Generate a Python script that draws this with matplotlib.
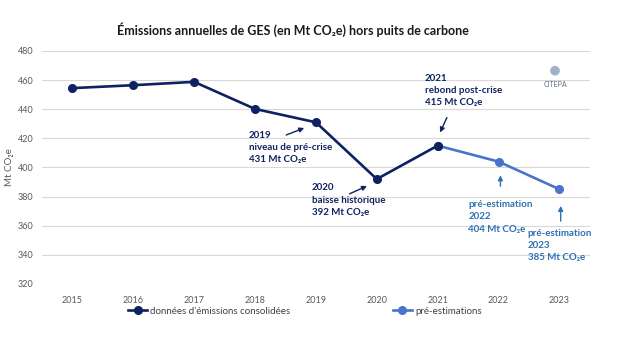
import matplotlib
matplotlib.use('Agg')
import matplotlib.pyplot as plt
from matplotlib.patches import Ellipse

plt.rcParams['font.family'] = ['Lato', 'DejaVu Sans']

years = ['2015', '2016', '2017', '2018', '2019', '2020', '2021', '2022', '2023']
consolidated = [454.5, 456.5, 458.8, 440.2, 431, 392, 415]
estimates = [415, 404, 385]

dark = '#0e2160'
light = '#4a74c9'
note_blue = '#2e6fb5'

fig = plt.figure(figsize=(6.35, 3.4), dpi=100)
ax = fig.add_axes([0.066, 0.165, 0.863, 0.685])

x_all = list(range(len(years)))
ax.plot(x_all[6:], estimates, color=light, lw=1.9, marker='o', ms=5.5, zorder=3)
ax.plot(x_all[:7], consolidated, color=dark, lw=1.9, marker='o', ms=5.5, zorder=4)

ax.set_xlim(-0.5, 8.5)
ax.set_ylim(320, 480)
ax.set_yticks(range(320, 481, 20))
ax.set_xticks(x_all)
ax.set_xticklabels(years)
ax.grid(axis='y', color='#d9d9d9', lw=0.8)
ax.set_axisbelow(True)
for s in ax.spines.values():
    s.set_visible(False)
ax.tick_params(length=0, labelsize=6.5, colors='#595959')
ax.tick_params(axis='y', pad=6)
ax.tick_params(axis='x', pad=9)
ax.set_ylabel('Mt CO₂e', fontsize=7, color='#595959', labelpad=3)

fig.text(0.461, 0.912, 'Émissions annuelles de GES (en Mt CO₂e) hors puits de carbone',
         ha='center', va='center', fontsize=9, fontweight='bold', color='#1a1a1a')

# annotations
def note(txt, xy_text, arrow_from, arrow_to, color):
    ax.text(*xy_text, txt, ha='left', va='top', fontsize=7, fontweight='bold',
            color=color, linespacing=1.45)
    ax.annotate('', xy=arrow_to, xytext=arrow_from,
                arrowprops=dict(arrowstyle='-|>', color=color, lw=1, mutation_scale=7))

note('2019\nniveau de pré-crise\n431 Mt CO₂e', (2.9, 425), (3.47, 421.6), (3.85, 427.8), dark)
note('2020\nbaisse historique\n392 Mt CO₂e', (3.93, 389), (4.51, 381.1), (4.88, 388), dark)
note('2021\nrebond post-crise\n415 Mt CO₂e', (5.79, 464.5), (6.17, 436), (6.02, 422.3), dark)
note('pré-estimation\n2022\n404 Mt CO₂e', (6.5, 377.5), (7.03, 385.2), (7.03, 396.5), note_blue)
note('pré-estimation\n2023\n385 Mt CO₂e', (7.48, 358), (8.02, 361.2), (8.02, 375.5), note_blue)

# logo
fig.text(0.874, 0.752, 'CITEPA', ha='center', va='center', fontsize=5, color='#606d80')
fig.patches.append(Ellipse((0.874, 0.792), 0.013, 0.024, transform=fig.transFigure,
                           color='#9fb0c8', figure=fig))

h1, = ax.plot([], [], color=dark, lw=1.9, marker='o', ms=5.5)
h2, = ax.plot([], [], color=light, lw=1.9, marker='o', ms=5.5)
fig.legend([h1, h2], ["données d'émissions consolidées", 'pré-estimations'],
           loc='center', bbox_to_anchor=(0.48, 0.085), ncol=2, frameon=False,
           fontsize=7, handlelength=2.0, handletextpad=0.3, columnspacing=10.5,
           labelcolor='#404040')

fig.savefig('out.png', dpi=100)
